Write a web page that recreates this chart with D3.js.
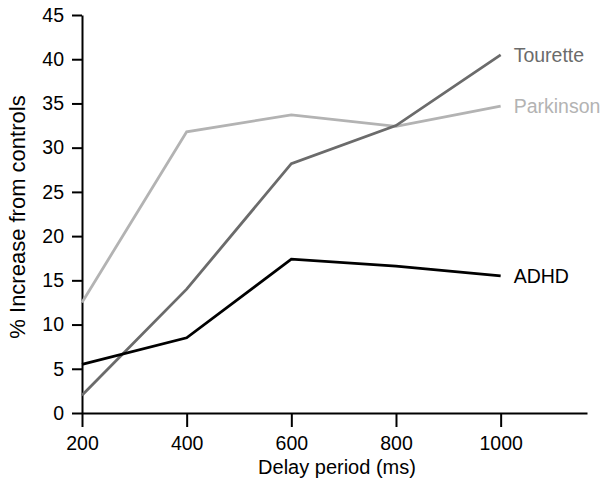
<!DOCTYPE html>
<html><head><meta charset="utf-8">
<script src="https://cdn.jsdelivr.net/npm/d3@7"></script>
<style>body{margin:0;background:#fff}svg{display:block}text{font-family:"Liberation Sans",Arial,sans-serif}</style>
</head><body>
<script>
const delays = [200, 400, 600, 800, 1000];
const tourette = [2, 14, 28.2, 32.5, 40.5];
const parkinson = [12.5, 31.8, 33.7, 32.4, 34.7];
const adhd = [5.5, 8.5, 17.4, 16.6, 15.5];
const yTicks = [0, 5, 10, 15, 20, 25, 30, 35, 40, 45];
const seriesNames = ["Parkinson", "Tourette", "ADHD"];
const seriesColors = ["#b3b3b3", "#6b6b6b", "#000000"];

const W = 607, H = 486;
const FS = 19.5;
const svg = d3.select("body").append("svg").attr("width", W).attr("height", H);
const x = d3.scaleLinear().domain([200, 1165]).range([82, 587]);
const y = d3.scaleLinear().domain([0, 45]).range([413, 15]);

const xAxis = svg.append("g").attr("transform", `translate(0,${y(0)})`)
  .call(d3.axisBottom(x).tickValues(delays).tickFormat(d3.format("d")).tickSize(14).tickPadding(9).tickSizeOuter(0));
const yAxis = svg.append("g").attr("transform", `translate(${x(200)},0)`)
  .call(d3.axisLeft(y).tickValues(yTicks).tickSize(10).tickPadding(8).tickSizeOuter(0));
[xAxis, yAxis].forEach(g => {
  g.attr("font-size", FS).attr("font-family", "Liberation Sans, Arial, sans-serif");
  g.selectAll("path,line").attr("stroke", "#000").attr("stroke-width", 2);
  g.selectAll("text").attr("fill", "#000");
});

svg.append("text").attr("x", 337).attr("y", 474)
  .attr("text-anchor", "middle").attr("font-size", 20).text("Delay period (ms)");
svg.append("text").attr("transform", `translate(25,217) rotate(-90)`)
  .attr("text-anchor", "middle").attr("font-size", 22).text("% Increase from controls");

const data = [parkinson, tourette, adhd];
const line = d3.line().x((d, i) => x(delays[i])).y(d => y(d));
data.forEach((vals, k) => {
  svg.append("path").datum(vals).attr("d", line)
    .attr("fill", "none").attr("stroke", seriesColors[k]).attr("stroke-width", 2.8)
    .attr("stroke-linejoin", "miter");
  svg.append("text").attr("x", x(1000) + 13).attr("y", y(vals[vals.length - 1]))
    .attr("dy", "0.35em").attr("font-size", FS).attr("fill", seriesColors[k]).text(seriesNames[k]);
});
</script>
</body></html>
